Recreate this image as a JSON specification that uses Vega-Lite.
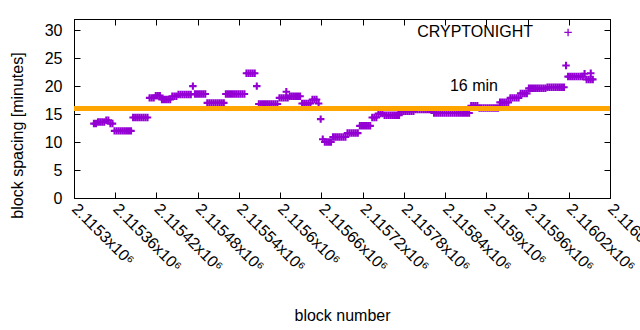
{
  "$schema": "https://vega.github.io/schema/vega-lite/v6.json",
  "autosize": {"type": "none"},
  "padding": {"left": 74, "top": 19, "right": 30, "bottom": 132},
  "width": 536,
  "height": 179,
  "background": "white",
  "config": {
    "view": {"stroke": "black", "strokeWidth": 1},
    "font": "Liberation Sans",
    "axis": {
      "grid": false,
      "domainColor": "black",
      "tickColor": "black",
      "labelColor": "black",
      "titleColor": "black",
      "labelFont": "Liberation Sans",
      "titleFont": "Liberation Sans",
      "labelFontSize": 16,
      "titleFontSize": 16,
      "titleFontWeight": "normal",
      "tickSize": -6,
      "tickWidth": 1,
      "labelOverlap": false,
      "labelFlush": false,
      "labelBound": false
    }
  },
  "layer": [
    {
      "data": {"values": [
        {"block": 2115329, "minutes": 13.3}, {"block": 2115332, "minutes": 13.3},
        {"block": 2115335, "minutes": 13.6}, {"block": 2115338, "minutes": 13.6},
        {"block": 2115341, "minutes": 13.6}, {"block": 2115344, "minutes": 13.6},
        {"block": 2115347, "minutes": 13.9}, {"block": 2115350, "minutes": 13.9},
        {"block": 2115353, "minutes": 13.3}, {"block": 2115356, "minutes": 13.3},
        {"block": 2115359, "minutes": 12.0}, {"block": 2115362, "minutes": 12.0},
        {"block": 2115365, "minutes": 12.0}, {"block": 2115368, "minutes": 12.0},
        {"block": 2115371, "minutes": 12.0}, {"block": 2115374, "minutes": 12.0},
        {"block": 2115377, "minutes": 12.0}, {"block": 2115380, "minutes": 12.0},
        {"block": 2115383, "minutes": 12.0},
        {"block": 2115386, "minutes": 14.4}, {"block": 2115389, "minutes": 14.4},
        {"block": 2115392, "minutes": 14.4}, {"block": 2115395, "minutes": 14.4},
        {"block": 2115398, "minutes": 14.4}, {"block": 2115401, "minutes": 14.4},
        {"block": 2115404, "minutes": 14.4}, {"block": 2115407, "minutes": 14.4},
        {"block": 2115410, "minutes": 17.9}, {"block": 2115413, "minutes": 17.9},
        {"block": 2115416, "minutes": 17.9}, {"block": 2115419, "minutes": 18.3},
        {"block": 2115422, "minutes": 18.3}, {"block": 2115425, "minutes": 18.3},
        {"block": 2115428, "minutes": 17.6}, {"block": 2115431, "minutes": 17.6},
        {"block": 2115434, "minutes": 17.6}, {"block": 2115437, "minutes": 17.6},
        {"block": 2115440, "minutes": 17.6}, {"block": 2115443, "minutes": 18.2},
        {"block": 2115446, "minutes": 18.2}, {"block": 2115449, "minutes": 18.2},
        {"block": 2115452, "minutes": 18.5}, {"block": 2115455, "minutes": 18.5},
        {"block": 2115458, "minutes": 18.5}, {"block": 2115461, "minutes": 18.5},
        {"block": 2115464, "minutes": 18.5}, {"block": 2115467, "minutes": 18.5},
        {"block": 2115470, "minutes": 18.5},
        {"block": 2115473, "minutes": 20.0},
        {"block": 2115476, "minutes": 18.6}, {"block": 2115479, "minutes": 18.6},
        {"block": 2115482, "minutes": 18.6}, {"block": 2115485, "minutes": 18.6},
        {"block": 2115488, "minutes": 18.6}, {"block": 2115491, "minutes": 18.6},
        {"block": 2115494, "minutes": 17.0}, {"block": 2115497, "minutes": 17.0},
        {"block": 2115500, "minutes": 17.0}, {"block": 2115503, "minutes": 17.0},
        {"block": 2115506, "minutes": 17.0}, {"block": 2115509, "minutes": 17.0},
        {"block": 2115512, "minutes": 17.0}, {"block": 2115515, "minutes": 17.0},
        {"block": 2115518, "minutes": 17.0},
        {"block": 2115521, "minutes": 18.6}, {"block": 2115524, "minutes": 18.6},
        {"block": 2115527, "minutes": 18.6}, {"block": 2115530, "minutes": 18.6},
        {"block": 2115533, "minutes": 18.6}, {"block": 2115536, "minutes": 18.6},
        {"block": 2115539, "minutes": 18.6}, {"block": 2115542, "minutes": 18.6},
        {"block": 2115545, "minutes": 18.6}, {"block": 2115548, "minutes": 18.6},
        {"block": 2115551, "minutes": 22.3}, {"block": 2115554, "minutes": 22.3},
        {"block": 2115557, "minutes": 22.3}, {"block": 2115560, "minutes": 22.3},
        {"block": 2115563, "minutes": 22.3},
        {"block": 2115566, "minutes": 20.0},
        {"block": 2115569, "minutes": 16.8}, {"block": 2115572, "minutes": 16.8},
        {"block": 2115575, "minutes": 16.8}, {"block": 2115578, "minutes": 16.8},
        {"block": 2115581, "minutes": 16.8}, {"block": 2115584, "minutes": 16.8},
        {"block": 2115587, "minutes": 16.8}, {"block": 2115590, "minutes": 16.8},
        {"block": 2115593, "minutes": 16.8}, {"block": 2115596, "minutes": 16.8},
        {"block": 2115599, "minutes": 17.9}, {"block": 2115602, "minutes": 17.9},
        {"block": 2115605, "minutes": 17.9}, {"block": 2115608, "minutes": 17.9},
        {"block": 2115609, "minutes": 19.0}, {"block": 2115611, "minutes": 17.9},
        {"block": 2115614, "minutes": 18.2}, {"block": 2115617, "minutes": 18.2},
        {"block": 2115620, "minutes": 18.2}, {"block": 2115623, "minutes": 18.2},
        {"block": 2115626, "minutes": 18.2}, {"block": 2115629, "minutes": 18.2},
        {"block": 2115632, "minutes": 16.9}, {"block": 2115635, "minutes": 16.9},
        {"block": 2115638, "minutes": 16.9}, {"block": 2115641, "minutes": 16.9},
        {"block": 2115644, "minutes": 16.9}, {"block": 2115647, "minutes": 17.6},
        {"block": 2115650, "minutes": 17.6}, {"block": 2115653, "minutes": 17.6},
        {"block": 2115656, "minutes": 16.9},
        {"block": 2115659, "minutes": 14.1},
        {"block": 2115662, "minutes": 10.5},
        {"block": 2115665, "minutes": 10.0}, {"block": 2115668, "minutes": 10.0},
        {"block": 2115671, "minutes": 10.0}, {"block": 2115674, "minutes": 10.0},
        {"block": 2115677, "minutes": 10.9}, {"block": 2115680, "minutes": 10.9},
        {"block": 2115683, "minutes": 10.9}, {"block": 2115686, "minutes": 10.9},
        {"block": 2115689, "minutes": 10.9}, {"block": 2115692, "minutes": 10.9},
        {"block": 2115695, "minutes": 10.9},
        {"block": 2115698, "minutes": 11.6}, {"block": 2115701, "minutes": 11.6},
        {"block": 2115704, "minutes": 11.6}, {"block": 2115707, "minutes": 11.6},
        {"block": 2115710, "minutes": 11.6}, {"block": 2115713, "minutes": 11.6},
        {"block": 2115716, "minutes": 12.9}, {"block": 2115719, "minutes": 12.9},
        {"block": 2115722, "minutes": 12.9}, {"block": 2115725, "minutes": 12.9},
        {"block": 2115728, "minutes": 12.9}, {"block": 2115731, "minutes": 12.9},
        {"block": 2115734, "minutes": 14.4}, {"block": 2115737, "minutes": 14.4},
        {"block": 2115740, "minutes": 14.4},
        {"block": 2115743, "minutes": 15.1}, {"block": 2115746, "minutes": 15.1},
        {"block": 2115749, "minutes": 15.1},
        {"block": 2115752, "minutes": 14.8}, {"block": 2115755, "minutes": 14.8},
        {"block": 2115758, "minutes": 14.8}, {"block": 2115761, "minutes": 14.8},
        {"block": 2115764, "minutes": 14.8}, {"block": 2115767, "minutes": 14.8},
        {"block": 2115770, "minutes": 14.8}, {"block": 2115773, "minutes": 14.8},
        {"block": 2115776, "minutes": 15.5}, {"block": 2115779, "minutes": 15.5},
        {"block": 2115782, "minutes": 15.5}, {"block": 2115785, "minutes": 15.5},
        {"block": 2115788, "minutes": 15.5}, {"block": 2115791, "minutes": 15.5},
        {"block": 2115794, "minutes": 15.5},
        {"block": 2115797, "minutes": 15.8}, {"block": 2115800, "minutes": 15.8},
        {"block": 2115803, "minutes": 15.8}, {"block": 2115806, "minutes": 15.8},
        {"block": 2115809, "minutes": 15.8}, {"block": 2115812, "minutes": 15.8},
        {"block": 2115815, "minutes": 15.8}, {"block": 2115818, "minutes": 15.8},
        {"block": 2115821, "minutes": 15.8},
        {"block": 2115824, "minutes": 15.2}, {"block": 2115827, "minutes": 15.2},
        {"block": 2115830, "minutes": 15.2}, {"block": 2115833, "minutes": 15.2},
        {"block": 2115836, "minutes": 15.2}, {"block": 2115839, "minutes": 15.2},
        {"block": 2115842, "minutes": 15.2}, {"block": 2115845, "minutes": 15.2},
        {"block": 2115848, "minutes": 15.2}, {"block": 2115851, "minutes": 15.2},
        {"block": 2115854, "minutes": 15.2}, {"block": 2115857, "minutes": 15.2},
        {"block": 2115860, "minutes": 15.2}, {"block": 2115863, "minutes": 15.2},
        {"block": 2115866, "minutes": 15.2}, {"block": 2115869, "minutes": 15.2},
        {"block": 2115872, "minutes": 15.2}, {"block": 2115875, "minutes": 15.2},
        {"block": 2115878, "minutes": 16.5}, {"block": 2115881, "minutes": 16.5},
        {"block": 2115884, "minutes": 16.5}, {"block": 2115887, "minutes": 16.5},
        {"block": 2115890, "minutes": 16.1}, {"block": 2115893, "minutes": 16.1},
        {"block": 2115896, "minutes": 16.1}, {"block": 2115899, "minutes": 16.1},
        {"block": 2115902, "minutes": 16.1}, {"block": 2115905, "minutes": 16.1},
        {"block": 2115908, "minutes": 16.1}, {"block": 2115911, "minutes": 16.1},
        {"block": 2115914, "minutes": 16.1}, {"block": 2115917, "minutes": 16.1},
        {"block": 2115920, "minutes": 17.1}, {"block": 2115923, "minutes": 17.1},
        {"block": 2115926, "minutes": 17.1}, {"block": 2115929, "minutes": 17.1},
        {"block": 2115932, "minutes": 17.1},
        {"block": 2115935, "minutes": 17.9}, {"block": 2115938, "minutes": 17.9},
        {"block": 2115941, "minutes": 17.9}, {"block": 2115944, "minutes": 17.9},
        {"block": 2115947, "minutes": 17.9},
        {"block": 2115950, "minutes": 18.7}, {"block": 2115953, "minutes": 18.7},
        {"block": 2115956, "minutes": 18.7}, {"block": 2115959, "minutes": 18.7},
        {"block": 2115962, "minutes": 19.6}, {"block": 2115965, "minutes": 19.6},
        {"block": 2115968, "minutes": 19.6}, {"block": 2115971, "minutes": 19.6},
        {"block": 2115974, "minutes": 19.6}, {"block": 2115977, "minutes": 19.6},
        {"block": 2115980, "minutes": 19.6}, {"block": 2115983, "minutes": 19.6},
        {"block": 2115986, "minutes": 19.6},
        {"block": 2115989, "minutes": 19.8}, {"block": 2115992, "minutes": 19.8},
        {"block": 2115995, "minutes": 19.8}, {"block": 2115998, "minutes": 19.8},
        {"block": 2116001, "minutes": 19.8}, {"block": 2116004, "minutes": 19.8},
        {"block": 2116007, "minutes": 19.8}, {"block": 2116010, "minutes": 19.8},
        {"block": 2116013, "minutes": 19.8},
        {"block": 2116016, "minutes": 23.7},
        {"block": 2116019, "minutes": 21.7}, {"block": 2116022, "minutes": 21.7},
        {"block": 2116025, "minutes": 21.7}, {"block": 2116028, "minutes": 21.7},
        {"block": 2116031, "minutes": 21.7}, {"block": 2116034, "minutes": 21.7},
        {"block": 2116037, "minutes": 21.7}, {"block": 2116040, "minutes": 21.7},
        {"block": 2116043, "minutes": 22.2},
        {"block": 2116046, "minutes": 21.2}, {"block": 2116049, "minutes": 21.2},
        {"block": 2116052, "minutes": 21.2}, {"block": 2116052, "minutes": 22.3},
        {"block": 2116055, "minutes": 21.2}
      ]},
      "mark": {"type": "point", "shape": "M-1,0L1,0M0,-1L0,1", "filled": false, "size": 56, "strokeWidth": 2.1, "color": "#9400D3", "opacity": 1},
      "encoding": {
        "x": {
          "field": "block", "type": "quantitative",
          "scale": {"domain": [2115300, 2116080], "nice": false, "zero": false},
          "axis": {
            "title": "block number",
            "values": [2115300, 2115360, 2115420, 2115480, 2115540, 2115600, 2115660, 2115720, 2115780, 2115840, 2115900, 2115960, 2116020, 2116080],
            "labelExpr": "format(datum.value / 1000000, '~g') + 'x10⁶'",
            "labelAngle": 45,
            "labelAlign": "left",
            "labelBaseline": "middle",
            "labelPadding": 14,
            "titleY": 122,
            "titleBaseline": "alphabetic"
          }
        },
        "y": {
          "field": "minutes", "type": "quantitative",
          "scale": {"domain": [0, 32], "nice": false, "zero": true},
          "axis": {
            "title": "block spacing [minutes]",
            "values": [0, 5, 10, 15, 20, 25, 30],
            "labelPadding": 18,
            "titleX": -57,
            "titleY": 116,
            "titleBaseline": "middle"
          }
        }
      }
    },
    {
      "data": {"values": [{"level": 16}]},
      "mark": {"type": "rule", "color": "#FFA500", "strokeWidth": 5},
      "encoding": {"y": {"field": "level", "type": "quantitative", "axis": null}}
    },
    {
      "data": {"values": [{"label": "16 min"}]},
      "mark": {"type": "text", "font": "Liberation Sans", "fontSize": 16, "align": "center", "baseline": "middle", "fill": "black"},
      "encoding": {
        "text": {"field": "label"},
        "x": {"datum": 2115882, "type": "quantitative", "axis": null},
        "y": {"datum": 20.1, "type": "quantitative", "axis": null}
      }
    },
    {
      "data": {"values": [{"label": "CRYPTONIGHT"}]},
      "mark": {"type": "text", "font": "Liberation Sans", "fontSize": 16, "align": "right", "baseline": "middle", "fill": "black"},
      "encoding": {
        "text": {"field": "label"},
        "x": {"datum": 2115968, "type": "quantitative", "axis": null},
        "y": {"datum": 29.7, "type": "quantitative", "axis": null}
      }
    },
    {
      "data": {"values": [{"label": "CRYPTONIGHT"}]},
      "mark": {"type": "point", "shape": "M-1,0L1,0M0,-1L0,1", "filled": false, "size": 56, "strokeWidth": 1.3, "color": "#9400D3", "opacity": 1},
      "encoding": {
        "x": {"datum": 2116019, "type": "quantitative", "axis": {"orient": "top", "title": null, "labels": false, "values": [2115300, 2115360, 2115420, 2115480, 2115540, 2115600, 2115660, 2115720, 2115780, 2115840, 2115900, 2115960, 2116020, 2116080]}},
        "y": {"datum": 29.6, "type": "quantitative", "axis": {"orient": "right", "title": null, "labels": false, "values": [0, 5, 10, 15, 20, 25, 30]}}
      }
    }
  ],
  "resolve": {"axis": {"x": "independent", "y": "independent"}}
}
